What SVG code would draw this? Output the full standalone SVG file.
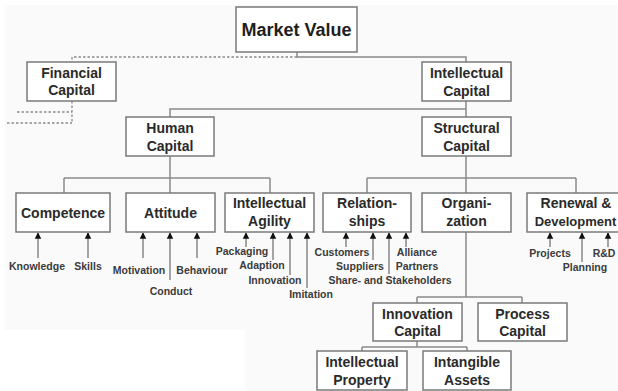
<svg xmlns="http://www.w3.org/2000/svg" width="618" height="391" viewBox="0 0 618 391">
<style>
.box{fill:#ffffff;stroke:#7a7a7a;stroke-width:1.5}
.ln{fill:none;stroke:#8a8a8a;stroke-width:1.5}
.dash{fill:none;stroke:#8a8a8a;stroke-width:1.3;stroke-dasharray:2.5 2}
.ar{fill:none;stroke:#777;stroke-width:1.3;marker-end:url(#ah)}
.t{font-family:"Liberation Sans",Arial,sans-serif;font-weight:bold;font-size:14px;fill:#2a2a2a;text-anchor:middle}
.big{font-size:18px;fill:#1e1e1e}
.s{font-family:"Liberation Sans",Arial,sans-serif;font-weight:bold;font-size:10.5px;fill:#3a3a3a;text-anchor:middle}
</style>
<defs>
<marker id="ah" viewBox="0 0 10 10" refX="9" refY="5" markerWidth="5" markerHeight="5.5" markerUnits="strokeWidth" orient="auto">
<path d="M0,0 L10,5 L0,10 z" fill="#111"/>
</marker>
</defs>
<rect x="0" y="0" width="618" height="391" fill="#ffffff"/>
<rect x="5" y="5" width="613" height="386" fill="#fafafa"/>
<rect x="0" y="330" width="245" height="61" fill="#ffffff"/>

<g id="connectors">
<path class="ln" d="M297,52 V57 H466 V62"/>
<path class="dash" d="M297,57 H72 V62"/>
<path class="dash" d="M72,101 V123 M17,112 H72 M7,123 H72"/>
<path class="ln" d="M466,101 V117 M466,109 H170 V117"/>
<path class="ln" d="M170,156 V178 M64,178 H270 M64,178 V193 M170,178 V193 M270,178 V193"/>
<path class="ln" d="M466,156 V178 M367,178 H576 M367,178 V193 M466,178 V193 M576,178 V193"/>
<path class="ln" d="M466,232 V297 M417,297 H522 M417,297 V303 M522,297 V303"/>
<path class="ln" d="M417,341 V347 M362,347 H467 M362,347 V351 M467,347 V351"/>
<path class="ar" d="M38,258 V233"/>
<path class="ar" d="M88,258 V233"/>
<path class="ar" d="M143,258 V233"/>
<path class="ar" d="M170,280 V233"/>
<path class="ar" d="M197,258 V233"/>
<path class="ar" d="M246,247 V233"/>
<path class="ar" d="M273,260 V233"/>
<path class="ar" d="M290,275 V233"/>
<path class="ar" d="M307,288 V233"/>
<path class="ar" d="M346,247 V233"/>
<path class="ar" d="M373,260 V233"/>
<path class="ar" d="M389,274 V233"/>
<path class="ar" d="M406,247 V233"/>
<path class="ar" d="M550,247 V233"/>
<path class="ar" d="M582,262 V233"/>
<path class="ar" d="M608,247 V233"/>
</g>

<g id="market-value"><rect class="box" x="236" y="7" width="121" height="45"/><text class="t big" x="296.5" y="36">Market Value</text></g>
<g id="financial-capital"><rect class="box" x="27" y="62" width="89" height="39"/><text class="t" x="71.5" y="78">Financial</text><text class="t" x="71.5" y="95">Capital</text></g>
<g id="intellectual-capital"><rect class="box" x="422" y="62" width="89" height="39"/><text class="t" x="466.5" y="78">Intellectual</text><text class="t" x="466.5" y="96">Capital</text></g>
<g id="human-capital"><rect class="box" x="126" y="117" width="88" height="39"/><text class="t" x="170" y="133">Human</text><text class="t" x="170" y="151">Capital</text></g>
<g id="structural-capital"><rect class="box" x="422" y="117" width="89" height="39"/><text class="t" x="466.5" y="133">Structural</text><text class="t" x="466.5" y="151">Capital</text></g>

<g id="competence"><rect class="box" x="16" y="193" width="94" height="39"/><text class="t" x="63" y="218">Competence</text></g>
<g id="attitude"><rect class="box" x="126" y="193" width="89" height="39"/><text class="t" x="170.5" y="218">Attitude</text></g>
<g id="intellectual-agility"><rect class="box" x="225" y="193" width="89" height="39"/><text class="t" x="269.5" y="208">Intellectual</text><text class="t" x="269.5" y="226">Agility</text></g>
<g id="relationships"><rect class="box" x="323" y="193" width="88" height="39"/><text class="t" x="367" y="208">Relation-</text><text class="t" x="367" y="226">ships</text></g>
<g id="organization"><rect class="box" x="422" y="193" width="89" height="39"/><text class="t" x="466.5" y="208">Organi-</text><text class="t" x="466.5" y="226">zation</text></g>
<g id="renewal-development"><rect class="box" x="527" y="193" width="98" height="39"/><text class="t" x="576" y="208">Renewal &amp;</text><text class="t" x="575.5" y="226" style="font-size:13px">Development</text></g>

<g id="innovation-capital"><rect class="box" x="373" y="303" width="89" height="38"/><text class="t" x="417.5" y="319">Innovation</text><text class="t" x="417.5" y="336">Capital</text></g>
<g id="process-capital"><rect class="box" x="478" y="303" width="89" height="38"/><text class="t" x="522.5" y="319">Process</text><text class="t" x="522.5" y="336">Capital</text></g>
<g id="intellectual-property"><rect class="box" x="317" y="351" width="90" height="39"/><text class="t" x="362" y="367">Intellectual</text><text class="t" x="362" y="385">Property</text></g>
<g id="intangible-assets"><rect class="box" x="423" y="351" width="88" height="39"/><text class="t" x="467" y="367">Intangible</text><text class="t" x="467" y="385">Assets</text></g>

<g id="labels">
<text class="s" x="37" y="270">Knowledge</text>
<text class="s" x="88" y="270">Skills</text>
<text class="s" x="139" y="274">Motivation</text>
<text class="s" x="202" y="274">Behaviour</text>
<text class="s" x="171" y="295">Conduct</text>
<text class="s" x="242" y="255">Packaging</text>
<text class="s" x="262" y="269">Adaption</text>
<text class="s" x="275" y="284">Innovation</text>
<text class="s" x="311" y="298">Imitation</text>
<text class="s" x="342" y="256">Customers</text>
<text class="s" x="360" y="270">Suppliers</text>
<text class="s" x="390" y="284">Share- and Stakeholders</text>
<text class="s" x="417" y="256">Alliance</text>
<text class="s" x="417" y="270">Partners</text>
<text class="s" x="550" y="257">Projects</text>
<text class="s" x="585" y="271">Planning</text>
<text class="s" x="604" y="257">R&amp;D</text>
</g>
</svg>
